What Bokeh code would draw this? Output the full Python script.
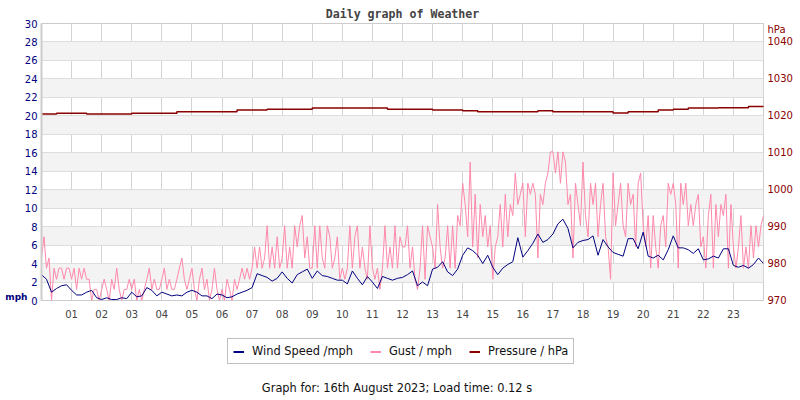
from bokeh.plotting import figure
from bokeh.models import Range1d, LinearAxis, FixedTicker, Label, Legend, LegendItem
from bokeh.layouts import column
from bokeh.embed import file_html
from bokeh.resources import INLINE

title_text = "Daily graph of Weather"
footer_text = "Graph for: 16th August 2023; Load time: 0.12 s"
hour_labels = ["01", "02", "03", "04", "05", "06", "07", "08", "09", "10", "11", "12",
               "13", "14", "15", "16", "17", "18", "19", "20", "21", "22", "23"]
hour_ticks = list(range(1, 24))
mph_ticks = list(range(0, 31, 2))
hpa_ticks = list(range(970, 1041, 10))
mph_unit = "mph"
hpa_unit = "hPa"
series_names = ["Wind Speed /mph", "Gust / mph", "Pressure / hPa"]

# wind speed, mph, every 10 minutes
wind_speed = [
    2.8, 2.3, 0.9, 1.3, 1.6, 1.7,
    1.1, 0.6, 0.6, 0.9, 1.1, 0.3,
    0.1, 0.3, 0.1, 0.1, 0.3, 0.2,
    0.9, 0.4, 0.5, 1.4, 1.1, 0.5,
    0.9, 0.7, 0.5, 0.6, 0.5, 0.9,
    1.1, 0.9, 0.5, 0.5, 0.2, 0.7,
    0.6, 0.3, 0.4, 0.7, 0.9, 1.1,
    1.4, 2.9, 2.7, 2.5, 2.1, 2.4,
    3.1, 2.4, 1.9, 2.8, 3.1, 3.4,
    2.4, 3.2, 2.7, 2.6, 2.4, 2.2,
    2.2, 1.8, 3.2, 2.4, 1.7, 2.6,
    2.0, 1.3, 2.6, 2.4, 2.2, 2.4,
    2.5, 2.8, 3.2, 1.6, 2.0, 1.6,
    3.4, 3.6, 4.2, 3.1, 2.7, 3.4,
    4.9, 5.7, 5.4, 4.9, 4.0, 4.9,
    3.6, 2.8, 3.5, 3.9, 4.2, 6.8,
    4.7, 5.4, 6.2, 7.2, 6.3, 6.6,
    7.2, 8.3, 8.8, 7.8, 5.7, 6.3,
    6.5, 6.6, 7.0, 4.9, 6.6, 5.8,
    5.2, 5.0, 4.8, 6.7, 6.7, 5.6,
    7.4, 4.8, 4.6, 4.9, 4.4, 5.5,
    7.0, 5.7, 5.7, 5.5, 5.1, 5.6,
    4.4, 4.5, 4.8, 4.6, 5.6, 5.6,
    3.8, 3.6, 3.8, 3.5, 3.9, 4.6,
    4.0,
]

# gust, mph, every 5 minutes
gust = [
    4.6, 6.9, 3.5, 4.6, 0.0, 3.5, 2.3, 3.5, 3.5, 2.3, 3.5, 3.5,
    2.3, 3.5, 1.2, 3.5, 2.3, 3.5, 2.3, 2.3, 0.0, 1.2, 1.2, 0.0,
    1.2, 2.3, 1.2, 0.0, 2.3, 1.2, 3.5, 1.2, 0.0, 1.2, 1.2, 2.3,
    1.2, 2.3, 0.0, 1.2, 0.0, 1.2, 2.3, 3.5, 1.2, 2.3, 1.2, 1.2,
    2.3, 3.5, 1.2, 2.3, 1.2, 1.2, 2.3, 3.5, 4.6, 2.3, 1.2, 2.3,
    3.5, 1.2, 0.0, 2.3, 3.5, 1.2, 2.3, 0.0, 1.2, 3.5, 1.2, 0.0,
    1.2, 0.0, 2.3, 1.2, 0.0, 2.3, 1.2, 2.3, 3.5, 2.3, 3.5, 2.3,
    3.5, 5.8, 3.5, 5.8, 3.5, 4.6, 8.1, 3.5, 5.8, 3.5, 6.9, 3.5,
    4.6, 8.1, 3.5, 5.8, 3.5, 8.1, 5.8, 8.1, 9.2, 4.6, 6.9, 3.5,
    3.5, 8.1, 3.5, 8.1, 4.6, 3.5, 8.1, 6.9, 3.5, 4.6, 6.9, 2.3,
    3.5, 2.3, 3.5, 8.1, 3.5, 6.9, 8.1, 3.5, 5.8, 3.5, 2.3, 8.1,
    3.5, 2.3, 3.5, 1.2, 3.5, 8.1, 3.5, 5.8, 3.5, 8.1, 3.5, 6.9,
    5.8, 5.8, 8.1, 3.5, 5.8, 2.3, 1.2, 3.5, 8.1, 2.3, 8.1, 6.9,
    5.8, 3.5, 10.4, 5.8, 3.5, 4.6, 8.1, 3.5, 8.1, 3.5, 9.2, 8.1,
    12.7, 10.4, 6.9, 15.0, 5.8, 11.5, 4.6, 10.4, 6.9, 9.2, 5.8, 8.1,
    2.3, 5.8, 6.9, 10.4, 5.8, 11.5, 6.9, 10.4, 9.2, 13.8, 10.4, 11.5,
    12.7, 6.9, 12.7, 11.5, 12.7, 11.5, 4.6, 11.5, 10.4, 12.7, 13.8, 16.1,
    16.1, 13.8, 16.1, 12.7, 16.1, 15.0, 10.4, 11.5, 4.6, 12.7, 10.4, 8.1,
    15.0, 9.2, 6.9, 12.7, 10.4, 12.7, 6.9, 10.4, 12.7, 6.9, 5.8, 2.3,
    13.8, 8.1, 10.4, 12.7, 8.1, 6.9, 12.7, 10.4, 11.5, 5.8, 12.7, 13.8,
    8.1, 5.8, 9.2, 3.5, 9.2, 5.8, 3.5, 8.1, 9.2, 5.8, 12.7, 11.5,
    12.7, 10.4, 3.5, 12.7, 10.4, 12.7, 8.1, 10.4, 8.1, 10.4, 11.5, 5.8,
    6.9, 3.5, 9.2, 11.5, 3.5, 10.4, 6.9, 10.4, 9.2, 11.5, 3.5, 10.4,
    5.8, 3.5, 5.8, 9.2, 3.5, 5.8, 3.5, 8.1, 4.6, 8.1, 5.8, 8.1,
    9.2,
]

# pressure, hPa, every 30 minutes
pressure = [
    1020.5, 1020.7, 1020.7, 1020.5, 1020.5, 1020.5, 1020.7, 1020.7,
    1020.7, 1021.1, 1021.1, 1021.1, 1021.1, 1021.6, 1021.6, 1021.8,
    1021.8, 1021.8, 1022.1, 1022.1, 1022.1, 1022.1, 1022.1, 1021.8,
    1021.8, 1021.8, 1021.6, 1021.6, 1021.4, 1021.1, 1021.1, 1021.1,
    1021.1, 1021.4, 1021.1, 1021.1, 1021.1, 1021.1, 1020.8, 1021.1,
    1021.1, 1021.6, 1021.8, 1022.1, 1022.1, 1022.2, 1022.2, 1022.5,
    1022.4,
]

wind_t = [i / 6 for i in range(len(wind_speed))]
gust_t = [i / 12 for i in range(len(gust))]
pres_t = [i / 2 for i in range(len(pressure))]

FONT = "DejaVu Sans"
WIND_C, GUST_C, PRES_C = "#000080", "#ff88aa", "#8b0000"


def plain_axis(ax, size, color, standoff):
    ax.axis_line_color = None
    ax.major_tick_line_color = None
    ax.minor_tick_line_color = None
    ax.major_tick_out = 0
    ax.major_tick_in = 0
    ax.minor_tick_out = 0
    ax.minor_tick_in = 0
    ax.major_label_text_font = FONT
    ax.major_label_text_font_size = size
    ax.major_label_text_color = color
    ax.major_label_standoff = standoff


# ---------------- main chart ----------------
p = figure(width=800, height=330, output_backend="svg", toolbar_location=None,
           x_range=Range1d(0, 24), y_range=Range1d(0, 30),
           min_border_left=41, min_border_right=37, min_border_top=23, min_border_bottom=30,
           background_fill_color="white", border_fill_color="white",
           outline_line_color="#cccccc")
p.extra_y_ranges = {"hpa": Range1d(970, 1045)}

p.title.text = title_text
p.title.align = "center"
p.title.text_font = "DejaVu Sans Mono"
p.title.text_font_style = "bold"
p.title.text_font_size = "11.6px"
p.title.text_color = "#444444"
p.title.standoff = 5

# x axis
p.xaxis.ticker = FixedTicker(ticks=hour_ticks)
p.xaxis.major_label_overrides = {t: lab for t, lab in zip(hour_ticks, hour_labels)}
plain_axis(p.xaxis[0], "10px", "#444444", 9)

# left axis (mph)
p.yaxis.ticker = FixedTicker(ticks=mph_ticks)
plain_axis(p.yaxis[0], "10px", WIND_C, 4)
p.yaxis.axis_line_color = "#cccccc"
p.yaxis.axis_line_width = 2

# outer left axis carrying only the unit name at the bottom
unit_ax = LinearAxis(ticker=FixedTicker(ticks=[0.4]), major_label_overrides={0.4: mph_unit})
plain_axis(unit_ax, "9px", WIND_C, -6)
unit_ax.major_label_text_font_style = "bold"
p.add_layout(unit_ax, "left")

# right axis (hPa) with the unit name at the top
ax2 = LinearAxis(y_range_name="hpa", ticker=FixedTicker(ticks=hpa_ticks + [1043.4]),
                 major_label_overrides={1043.4: hpa_unit})
plain_axis(ax2, "10px", PRES_C, 4)
p.add_layout(ax2, "right")

# grids
p.xgrid.grid_line_color = "#d3d3d3"
p.ygrid.grid_line_color = "#dddddd"
p.ygrid.band_fill_color = "#f3f3f3"
p.ygrid.band_fill_alpha = 1.0

# series
p.line(gust_t, gust, line_color=GUST_C, line_width=1)
p.line(wind_t, wind_speed, line_color=WIND_C, line_width=1)
p.step(pres_t, pressure, line_color=PRES_C, line_width=1.5, mode="after", y_range_name="hpa")

# ---------------- legend + footer strip ----------------
# frame of this strip is aligned with the chart frame (x 41..763 of the page)
q = figure(width=800, height=70, output_backend="svg", toolbar_location=None,
           x_range=Range1d(41, 763), y_range=Range1d(0, 70),
           x_axis_location=None, y_axis_location=None,
           min_border=0, outline_line_color=None,
           background_fill_color="white", border_fill_color="white")
q.grid.visible = False

# legend proxies: same series, lying outside this strip's visible range
lw = q.line(wind_t, wind_speed, line_color=WIND_C, line_width=2)
lg = q.line(gust_t, gust, line_color=GUST_C, line_width=2)
lp = q.line(pres_t, pressure, line_color=PRES_C, line_width=2)
legend = Legend(items=[LegendItem(label=series_names[0], renderers=[lw]),
                       LegendItem(label=series_names[1], renderers=[lg]),
                       LegendItem(label=series_names[2], renderers=[lp])],
                orientation="horizontal", location=(186, 36),
                glyph_width=11, glyph_height=13, label_standoff=8, spacing=17,
                padding=5, margin=0,
                label_text_font=FONT, label_text_font_size="11.4px", label_text_color="#111111",
                label_height=13,
                border_line_color="#808080", border_line_width=1,
                background_fill_color="white", background_fill_alpha=1.0)
q.add_layout(legend)

q.add_layout(Label(x=396.5, y=13, text=footer_text, text_align="center", text_baseline="middle",
                   text_font=FONT, text_font_size="11.4px", text_color="#111111"))

layout = column(p, q, spacing=0)
open("out.html", "w").write(file_html(layout, INLINE))
